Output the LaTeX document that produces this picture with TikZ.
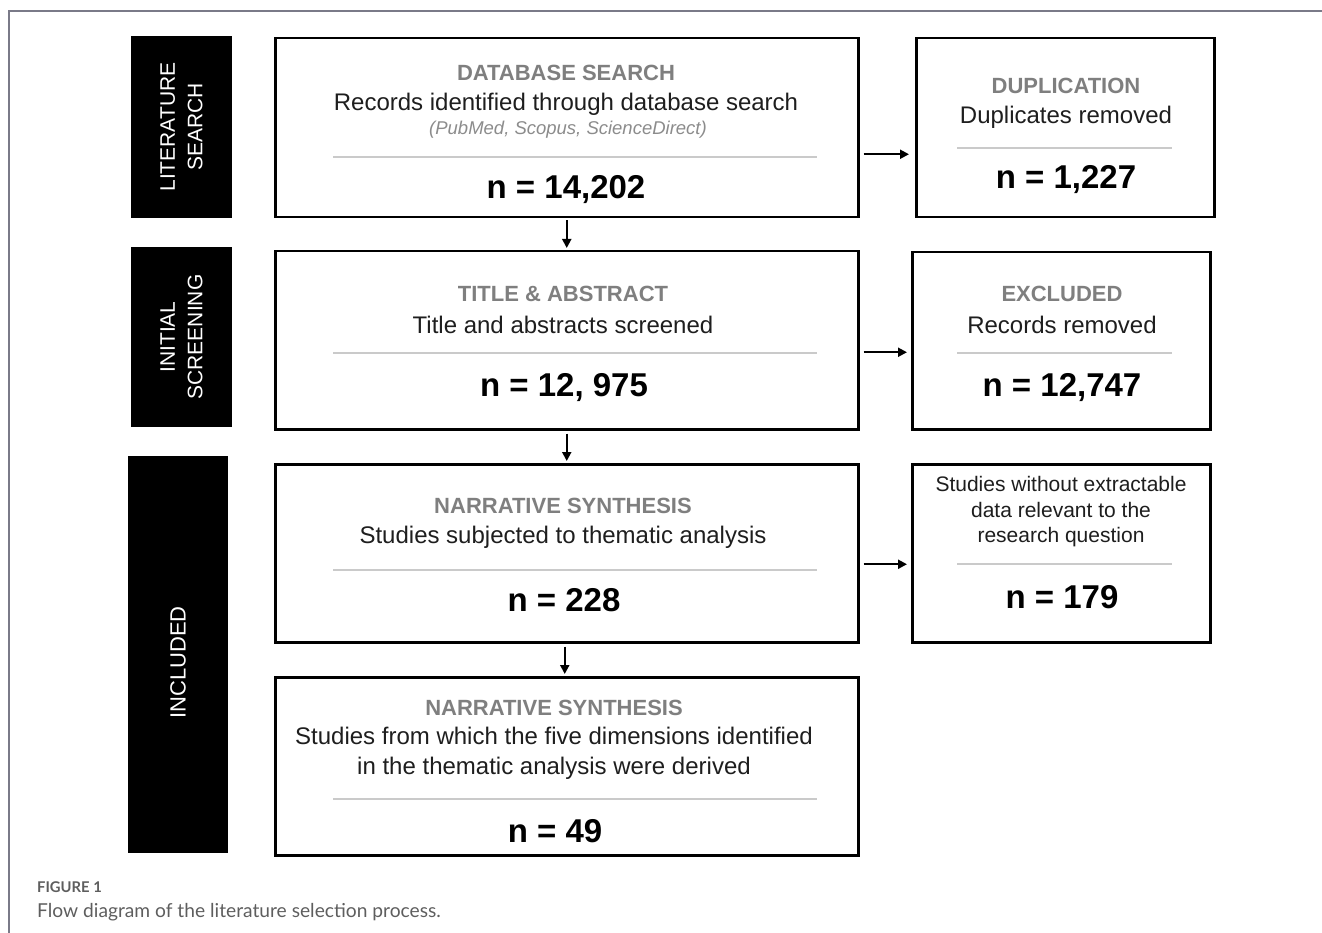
\documentclass[tikz,border=0pt]{standalone}
\usepackage{fontspec}
\setmainfont{Liberation Sans}
\newfontfamily\capfont{Lato}
\usetikzlibrary{arrows.meta}
\definecolor{frameg}{HTML}{7A7A88}
\definecolor{titleg}{HTML}{7F7F7F}
\definecolor{italg}{HTML}{8C8C8C}
\definecolor{sepg}{HTML}{CACACA}
\definecolor{bodyk}{HTML}{1E1E1E}
\definecolor{capg}{HTML}{5E5E5E}
\begin{document}
\begin{tikzpicture}[x=1pt,y=-1pt,
  mainbox/.style={draw=black, line width=2.5pt, fill=white, inner sep=0pt, anchor=north west},
  labelbox/.style={fill=black, text=white, rotate=90, align=center, inner sep=0pt,
     font=\fontsize{21}{27.5}\selectfont},
  ttl/.style={text=titleg, font=\bfseries\fontsize{22}{26}\selectfont, inner sep=0pt},
  body/.style={text=bodyk, font=\fontsize{24}{30}\selectfont, inner sep=0pt, align=center},
  ital/.style={text=italg, font=\itshape\fontsize{18.5}{22}\selectfont, inner sep=0pt},
  num/.style={text=black, font=\bfseries\fontsize{33}{38}\selectfont, inner sep=0pt},
  sep/.style={draw=sepg, line width=2pt},
  arr/.style={draw=black, line width=2pt, -{Triangle[length=9pt,width=9pt]}},
]
\useasboundingbox (0,0) rectangle (1322,933);
% outer frame
\draw[frameg, line width=1.5pt] (9,933) -- (9,11) -- (1322,11);

% side labels
\node[labelbox, minimum width=182pt, minimum height=101pt] (L1) at (181.5,127) {LITERATURE\\SEARCH};
\node[labelbox, minimum width=180pt, minimum height=101pt] (L2) at (181.5,337) {INITIAL\\SCREENING};
\node[labelbox, minimum width=397pt, minimum height=100pt, font=\fontsize{22}{27}\selectfont] (L3) at (178,654.5) {INCLUDED\hspace*{16pt}};

% main boxes
\node[mainbox, minimum width=583pt, minimum height=179pt] (b1) at (274,37) {};
\node[mainbox, minimum width=298pt, minimum height=179pt] (b2) at (915,37) {};
\node[mainbox, minimum width=583pt, minimum height=178pt] (b3) at (274,250) {};
\node[mainbox, minimum width=298pt, minimum height=177pt] (b4) at (911,251) {};
\node[mainbox, minimum width=583pt, minimum height=178pt] (b5) at (274,463) {};
\node[mainbox, minimum width=298pt, minimum height=178pt] (b6) at (911,463) {};
\node[mainbox, minimum width=583pt, minimum height=178pt] (b7) at (274,676) {};

% box 1
\node[ttl] (t1) at (566,73) {DATABASE SEARCH};
\node[body] (d1) at (566,104) {Records identified through database search};
\node[ital] (i1) at (568,130) {(PubMed, Scopus, ScienceDirect)};
\draw[sep] (333,157) -- (817,157);
\node[num] (n1) at (566,190) {n = 14,202};

% box 2
\node[ttl] (t2) at (1066,86) {DUPLICATION};
\node[body] (d2) at (1066,117) {Duplicates removed};
\draw[sep] (957,148) -- (1172,148);
\node[num] (n2) at (1066,180) {n = 1,227};

% box 3
\node[ttl] (t3) at (563,294) {TITLE \& ABSTRACT};
\node[body] (d3) at (563,325) {Title and abstracts screened};
\draw[sep] (333,353) -- (817,353);
\node[num] (n3) at (564,388) {n = 12, 975};

% box 4
\node[ttl] (t4) at (1062,294) {EXCLUDED};
\node[body] (d4) at (1062,325) {Records removed};
\draw[sep] (957,353) -- (1172,353);
\node[num] (n4) at (1062,388) {n = 12,747};

% box 5
\node[ttl] (t5) at (563,506) {NARRATIVE SYNTHESIS};
\node[body] (d5) at (563,537) {Studies subjected to thematic analysis};
\draw[sep] (333,570) -- (817,570);
\node[num] (n5) at (564,600) {n = 228};

% box 6
\node[body, font=\fontsize{21}{25.5}\selectfont] (d6) at (1061,512) {Studies without extractable\\data relevant to the\\research question};
\draw[sep] (957,564) -- (1172,564);
\node[num] (n6) at (1062,597) {n = 179};

% box 7
\node[ttl] (t7) at (554,708) {NARRATIVE SYNTHESIS};
\node[body] (d7) at (554,753) {Studies from which the five dimensions identified\\in the thematic analysis were derived};
\draw[sep] (333,799) -- (817,799);
\node[num] (n7) at (555,831) {n = 49};

% arrows
\draw[arr, shorten <=4pt, shorten >=6pt] ([yshift=-26.5pt]b1.east) -- ([yshift=-26.5pt]b1.east -| b2.west);
\draw[arr, shorten <=4pt, shorten >=4pt] ([yshift=-12pt]b3.east) -- ([yshift=-12pt]b3.east -| b4.west);
\draw[arr, shorten <=4pt, shorten >=4pt] ([yshift=-11pt]b5.east) -- ([yshift=-11pt]b5.east -| b6.west);
\draw[arr, shorten <=2pt, shorten >=2pt] (b1.south) -- (b3.north);
\draw[arr, shorten <=3pt, shorten >=2pt] (b3.south) -- (b5.north);
\draw[arr, shorten <=3pt, shorten >=2pt] ([xshift=-2pt]b5.south) -- ([xshift=-2pt]b7.north);

% caption
\node[anchor=west, inner sep=0pt, text=capg, font=\capfont\bfseries\fontsize{14.8}{17}\selectfont] (cap1) at (37,887) {FIGURE 1};
\node[anchor=west, inner sep=0pt, text=capg, font=\capfont\fontsize{19.2}{23}\selectfont] (cap2) at (37,912) {Flow diagram of the literature selection process.};
\end{tikzpicture}
\end{document}
